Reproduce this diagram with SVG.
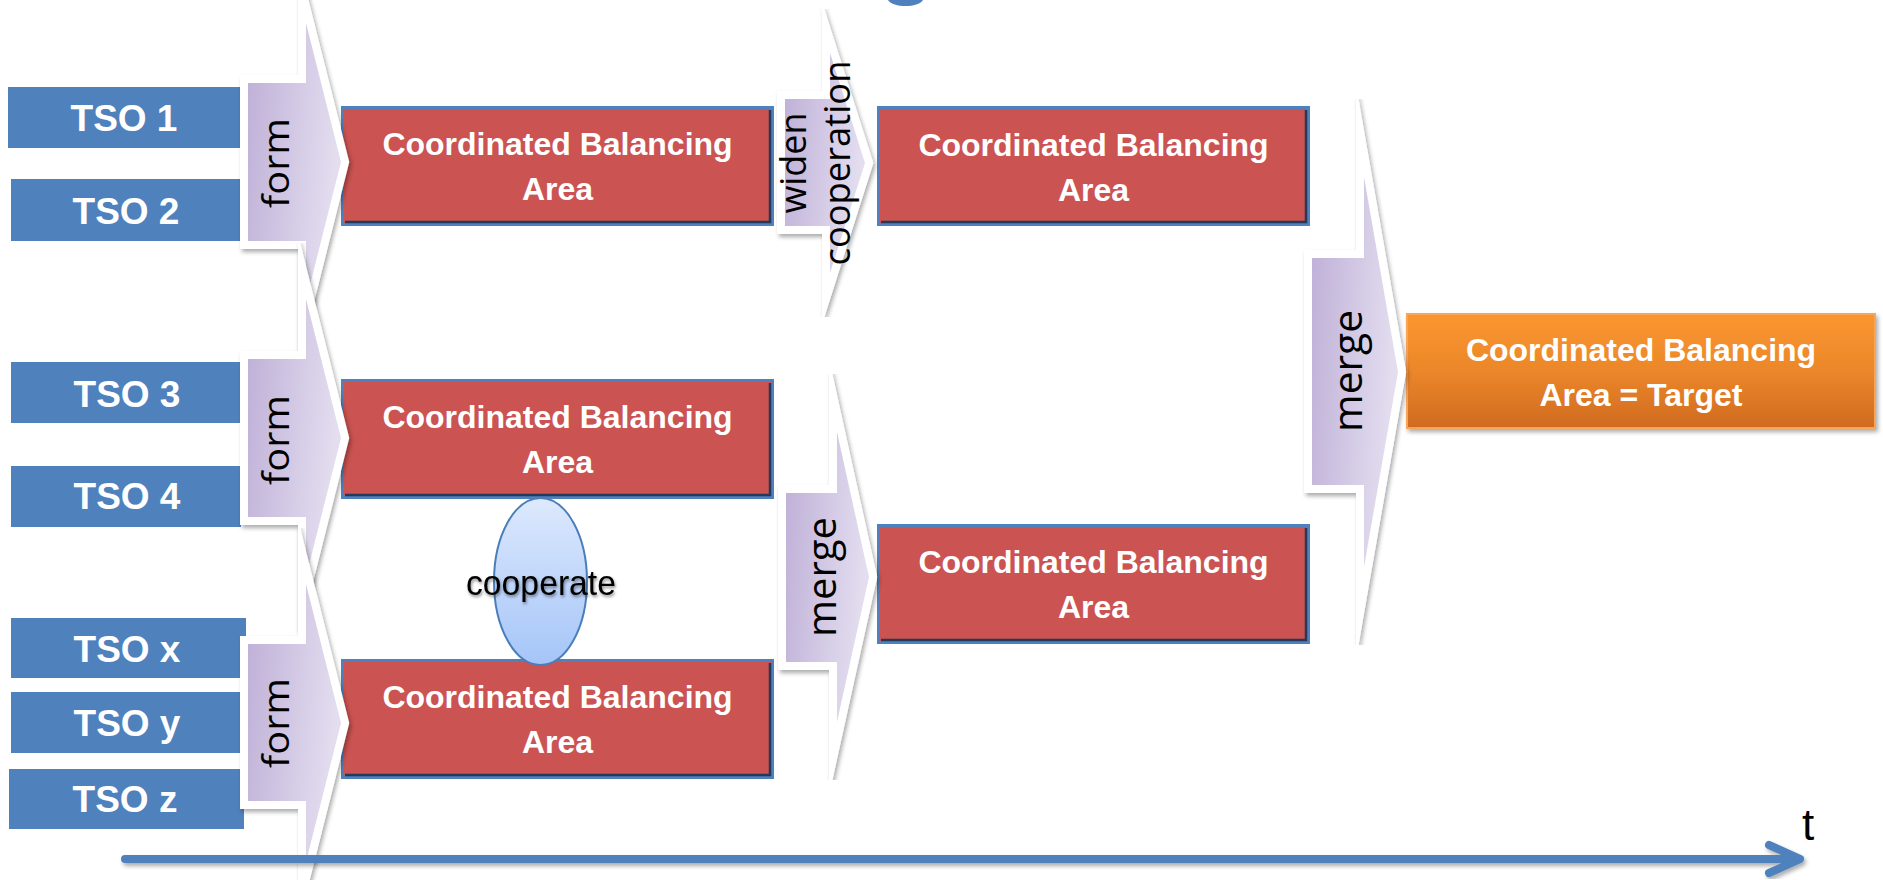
<svg xmlns="http://www.w3.org/2000/svg" width="1883" height="880" viewBox="0 0 1883 880">
<defs>
  <linearGradient id="gPurple" x1="0" y1="0" x2="1" y2="0.25">
    <stop offset="0" stop-color="#BEAFD7"/>
    <stop offset="1" stop-color="#E3DDEF"/>
  </linearGradient>
  <linearGradient id="gOrange" x1="0" y1="0" x2="0" y2="1">
    <stop offset="0" stop-color="#FB962F"/>
    <stop offset="0.5" stop-color="#EC872B"/>
    <stop offset="1" stop-color="#CF6A20"/>
  </linearGradient>
  <linearGradient id="gBlue" x1="0" y1="0" x2="0" y2="1">
    <stop offset="0" stop-color="#DDE9FD"/>
    <stop offset="1" stop-color="#A5C5F8"/>
  </linearGradient>
  <filter id="shadow" x="-20%" y="-20%" width="140%" height="140%">
    <feDropShadow dx="2" dy="3" stdDeviation="2" flood-color="#000" flood-opacity="0.33"/>
  </filter>
  <filter id="tshadow" x="-10%" y="-30%" width="120%" height="160%">
    <feDropShadow dx="1" dy="2" stdDeviation="1.5" flood-color="#000" flood-opacity="0.45"/>
  </filter>
</defs>
<style>
  .tso { fill: #4F81BD; }
  .tsotxt { font-family: "Liberation Sans", Arial, sans-serif; font-weight: bold; font-size: 37px; fill: #FFFFFF; text-anchor: middle; }
  .bout { fill: #4F81BD; }
  .bin { fill: #CB5351; }
  .bevel { fill: none; stroke: #26395A; stroke-width: 2.5; }
  .btxt { font-family: "Liberation Sans", Arial, sans-serif; font-weight: bold; font-size: 32px; fill: #FFFFFF; text-anchor: middle; }
  .arrow { fill: url(#gPurple); stroke: #FFFFFF; stroke-width: 16; stroke-linejoin: miter; stroke-miterlimit: 12; paint-order: stroke; filter: url(#shadow); }
  .atxt { font-family: "Open Sans", "DejaVu Sans", sans-serif; font-size: 36px; fill: #000000; text-anchor: middle; }
  .big { font-size: 40px; }
  .axis { fill: none; stroke: #4F81BD; stroke-width: 8; stroke-linecap: round; stroke-linejoin: round; }
</style>

<rect width="1883" height="880" fill="#FFFFFF"/>
<path d="M888,0 C893,8 918,8 923,0 Z" fill="#4F81BD"/>

<!-- TSO nodes -->
<g id="tso1"><rect class="tso" x="8" y="87" width="232" height="61"/><text class="tsotxt" x="124" y="131">TSO 1</text></g>
<g id="tso2"><rect class="tso" x="11" y="179" width="229" height="62"/><text class="tsotxt" x="126" y="224">TSO 2</text></g>
<g id="tso3"><rect class="tso" x="11" y="362" width="230" height="61"/><text class="tsotxt" x="127" y="407">TSO 3</text></g>
<g id="tso4"><rect class="tso" x="11" y="466" width="230" height="61"/><text class="tsotxt" x="127" y="509">TSO 4</text></g>
<g id="tsox"><rect class="tso" x="11" y="618" width="235" height="60"/><text class="tsotxt" x="127" y="662">TSO x</text></g>
<g id="tsoy"><rect class="tso" x="11" y="692" width="232" height="61"/><text class="tsotxt" x="127" y="736">TSO y</text></g>
<g id="tsoz"><rect class="tso" x="9" y="769" width="235" height="60"/><text class="tsotxt" x="125" y="812">TSO z</text></g>

<!-- Coordinated Balancing Areas -->
<g id="cba1">
  <rect class="bout" x="341" y="106" width="433" height="120"/>
  <rect class="bin" x="344" y="109" width="427" height="114"/>
  <path class="bevel" d="M770,110 V222 H345"/>
  <text class="btxt" x="557.5" y="155">Coordinated Balancing</text>
  <text class="btxt" x="557.5" y="200">Area</text>
</g>
<g id="cba2">
  <rect class="bout" x="877" y="106" width="433" height="120"/>
  <rect class="bin" x="880" y="109" width="427" height="114"/>
  <path class="bevel" d="M1306,110 V222 H881"/>
  <text class="btxt" x="1093.5" y="156">Coordinated Balancing</text>
  <text class="btxt" x="1093.5" y="201">Area</text>
</g>
<g id="cba3">
  <rect class="bout" x="341" y="379" width="433" height="120"/>
  <rect class="bin" x="344" y="382" width="427" height="114"/>
  <path class="bevel" d="M770,383 V495 H345"/>
  <text class="btxt" x="557.5" y="428">Coordinated Balancing</text>
  <text class="btxt" x="557.5" y="473">Area</text>
</g>
<g id="cba4">
  <rect class="bout" x="341" y="659" width="433" height="120"/>
  <rect class="bin" x="344" y="662" width="427" height="114"/>
  <path class="bevel" d="M770,663 V775 H345"/>
  <text class="btxt" x="557.5" y="708">Coordinated Balancing</text>
  <text class="btxt" x="557.5" y="753">Area</text>
</g>
<g id="cba5">
  <rect class="bout" x="877" y="524" width="433" height="120"/>
  <rect class="bin" x="880" y="527" width="427" height="114"/>
  <path class="bevel" d="M1306,528 V640 H881"/>
  <text class="btxt" x="1093.5" y="573">Coordinated Balancing</text>
  <text class="btxt" x="1093.5" y="618">Area</text>
</g>
<g id="target">
  <rect x="1407" y="314" width="468" height="114" fill="url(#gOrange)" stroke="#F8A55A" stroke-width="2" filter="url(#shadow)"/>
  <text class="btxt" x="1641" y="361">Coordinated Balancing</text>
  <text class="btxt" x="1641" y="406">Area = Target</text>
</g>

<!-- cooperate ellipse -->
<g id="cooperate">
  <ellipse cx="540.5" cy="581.5" rx="46.5" ry="83.5" fill="url(#gBlue)" stroke="#4A7EBB" stroke-width="2"/>
  <text x="541" y="595" font-family="'Liberation Sans', Arial, sans-serif" font-size="35" fill="#000" text-anchor="middle" textLength="150" lengthAdjust="spacingAndGlyphs" filter="url(#tshadow)">cooperate</text>
</g>

<!-- connectors: block arrows and time axis -->
<g id="connectors">
  <g id="form1">
    <path class="arrow" d="M248,83 H306 V23 L341,162 L306,301 V241 H248 Z"/>
    <text class="atxt" transform="translate(289,163) rotate(-90)" textLength="90" lengthAdjust="spacingAndGlyphs">form</text>
  </g>
  <g id="form2">
    <path class="arrow" d="M248,359 H306 V299 L341,438 L306,577 V517 H248 Z"/>
    <text class="atxt" transform="translate(289,440) rotate(-90)" textLength="90" lengthAdjust="spacingAndGlyphs">form</text>
  </g>
  <g id="form3">
    <path class="arrow" d="M248,644 H306 V584 L341,723 L306,862 V801 H248 Z"/>
    <text class="atxt" transform="translate(289,723) rotate(-90)" textLength="90" lengthAdjust="spacingAndGlyphs">form</text>
  </g>
  <g id="widen">
    <path class="arrow" d="M785,99 H830 V53 L865,163 L830,273 V226 H785 Z"/>
    <text class="atxt" transform="translate(806,163) rotate(-90)" font-size="38" textLength="101" lengthAdjust="spacingAndGlyphs">widen</text>
    <text class="atxt" transform="translate(850,163) rotate(-90)" font-size="38" textLength="205" lengthAdjust="spacingAndGlyphs">cooperation</text>
  </g>
  <g id="merge1">
    <path class="arrow" d="M786,493 H837 V432 L869,577 L837,722 V662 H786 Z"/>
    <text class="atxt big" transform="translate(836,577) rotate(-90)" textLength="120" lengthAdjust="spacingAndGlyphs">merge</text>
  </g>
  <g id="merge2">
    <path class="arrow" d="M1312,258 H1364 V177 L1398,372 L1364,567 V485 H1312 Z"/>
    <text class="atxt big" transform="translate(1362,371) rotate(-90)" textLength="122" lengthAdjust="spacingAndGlyphs">merge</text>
  </g>
  <g id="time-axis" filter="url(#shadow)">
    <line class="axis" x1="125" y1="859" x2="1796" y2="859"/>
    <polyline class="axis" points="1769,845 1800,859 1769,873" stroke-width="9"/>
  </g>
</g>
<text x="1802" y="840" font-family="'Liberation Sans', Arial, sans-serif" font-size="44" fill="#000">t</text>
</svg>
